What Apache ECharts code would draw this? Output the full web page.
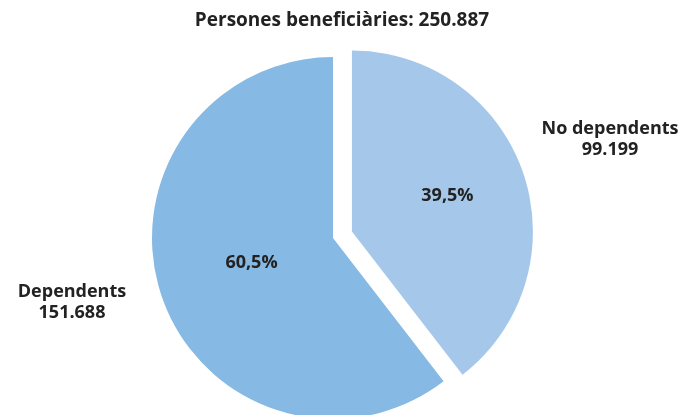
<!DOCTYPE html>
<html>
<head>
<meta charset="utf-8">
<script src="https://cdn.jsdelivr.net/npm/echarts@6/dist/echarts.min.js"></script>
<style>
  html, body { margin: 0; padding: 0; background: #fff; }
  #chart { width: 684px; height: 415px; }
</style>
</head>
<body>
<div id="chart"></div>
<script>
  // dades
  var categories = ['No dependents', 'Dependents'];
  var values = [99199, 151688];
  var titleText = 'Persones beneficiàries';

  var total = values.reduce(function (a, b) { return a + b; }, 0);

  // 151688 -> "151.688"
  function fmtNum(n) {
    return String(n).replace(/\B(?=(\d{3})+(?!\d))/g, '.');
  }
  function fmtPct(v) {
    return (v / total * 100).toFixed(1).replace('.', ',') + '%';
  }

  var colors = ['#A5C8EA', '#86B9E3'];
  var font = '"Open Sans", "Noto Sans", sans-serif';

  var pieData = categories.map(function (name, i) {
    return { name: name, value: values[i], selected: i === 0, itemStyle: { color: colors[i] } };
  });

  var chart = echarts.init(document.getElementById('chart'));
  var option = {
    animation: false,
    title: {
      text: titleText + ': ' + fmtNum(total),
      left: 'center',
      top: 6,
      textStyle: { color: '#222', fontSize: 19, fontWeight: 'bold', fontFamily: font }
    },
    series: [
      {
        type: 'pie',
        center: [333, 238],
        radius: 181,
        startAngle: 90,
        clockwise: true,
        selectedMode: 'single',
        selectedOffset: 20,
        silent: true,
        data: pieData,
        label: {
          show: true,
          position: 'inside',
          formatter: function (p) { return fmtPct(p.value); },
          color: '#222',
          fontSize: 18,
          fontWeight: 'bold',
          fontFamily: font
        },
        labelLine: { show: false },
        labelLayout: { dx: 7, dy: -5 },
        itemStyle: { borderWidth: 0 }
      },
      {
        // etiquetes exteriors
        type: 'pie',
        center: [333, 238],
        radius: 181,
        startAngle: 90,
        clockwise: true,
        silent: true,
        data: categories.map(function (name, i) { return { name: name, value: values[i] }; }),
        itemStyle: { color: 'rgba(0,0,0,0)' },
        label: {
          show: true,
          position: 'outside',
          formatter: function (p) { return p.name + '\n' + fmtNum(p.value); },
          color: '#222',
          fontSize: 18,
          fontWeight: 'bold',
          fontFamily: font,
          lineHeight: 21,
          align: 'center',
          overflow: 'none'
        },
        labelLine: { show: false },
        labelLayout: function (params) {
          var pos = [[610, 139], [72, 302]];
          return { x: pos[params.dataIndex][0], y: pos[params.dataIndex][1], align: 'center', verticalAlign: 'middle' };
        }
      }
    ]
  };
  chart.setOption(option);
</script>
</body>
</html>
